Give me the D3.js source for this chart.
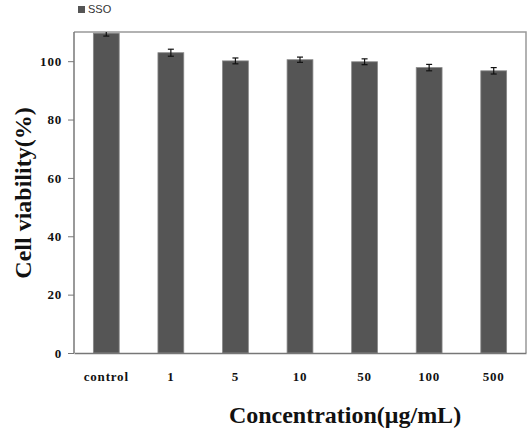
<!DOCTYPE html>
<html>
<head>
<meta charset="utf-8">
<script src="https://cdn.jsdelivr.net/npm/d3@7"></script>
<style>
  body { margin: 0; background: #fff; }
  .tick text { font-family: 'Liberation Serif', 'Times New Roman', serif; font-weight: bold; font-size: 13px; letter-spacing: 0.8px; fill: #111; }
</style>
</head>
<body>
<div id="chart"></div>
<script>
const categories = ['control', '1', '5', '10', '50', '100', '500'];
const viability = [109.6, 102.9, 100.1, 100.5, 99.8, 97.8, 96.7];
const errors = [1.0, 1.2, 1.0, 0.9, 1.0, 1.1, 1.1];
const yTicks = [0, 20, 40, 60, 80, 100];

const config = {
  width: 532,
  height: 428,
  margin: { top: 32, right: 6, bottom: 75, left: 74 },
};

const width = config.width - config.margin.left - config.margin.right;
const height = config.height - config.margin.top - config.margin.bottom;

const svg = d3.select('#chart').append('svg')
  .attr('width', config.width)
  .attr('height', config.height);

const chart = svg.append('g')
  .attr('transform', `translate(${config.margin.left},${config.margin.top})`);

const xScale = d3.scaleBand()
  .domain(categories)
  .range([0, width])
  .paddingInner(0.6)
  .paddingOuter(0.3);

const yScale = d3.scaleLinear()
  .domain([0, 110])
  .range([height, 0]);

// plot frame (top and right)
chart.append('path')
  .attr('d', `M0,0H${width}V${height}`)
  .attr('fill', 'none')
  .attr('stroke', '#999')
  .attr('stroke-width', 1.5);

chart.selectAll('.bar')
  .data(categories)
  .join('rect')
  .attr('class', 'bar')
  .attr('x', (d) => xScale(d))
  .attr('width', xScale.bandwidth())
  .attr('y', (d, i) => yScale(viability[i]))
  .attr('height', (d, i) => height - yScale(viability[i]))
  .attr('fill', '#555')
  .attr('stroke', '#888')
  .attr('stroke-width', 0.8);

// error bars
const err = chart.selectAll('.err')
  .data(categories.map((c, i) => ({ c, v: viability[i], e: errors[i] })))
  .join('g')
  .attr('class', 'err')
  .attr('transform', (d) => `translate(${xScale(d.c) + xScale.bandwidth() / 2},0)`);

err.append('line')
  .attr('y1', (d) => yScale(Math.min(d.v + d.e, 110)))
  .attr('y2', (d) => yScale(d.v - d.e))
  .attr('stroke', '#111')
  .attr('stroke-width', 1.2);

err.append('line')
  .attr('x1', -3).attr('x2', 3)
  .attr('y1', (d) => yScale(d.v - d.e))
  .attr('y2', (d) => yScale(d.v - d.e))
  .attr('stroke', '#111')
  .attr('stroke-width', 1.2);

err.filter((d) => d.v + d.e < 110)
  .append('line')
  .attr('x1', -3).attr('x2', 3)
  .attr('y1', (d) => yScale(d.v + d.e))
  .attr('y2', (d) => yScale(d.v + d.e))
  .attr('stroke', '#111')
  .attr('stroke-width', 1.2);

const yAxisG = chart.append('g')
  .call(d3.axisLeft(yScale).tickValues(yTicks).tickSize(6).tickSizeOuter(0).tickPadding(6));
yAxisG.select('.domain').attr('stroke', '#777').attr('stroke-width', 1.5)
  .attr('d', `M0,${height}V0`);
yAxisG.selectAll('.tick line').attr('stroke', '#777');

const xAxisG = chart.append('g')
  .attr('transform', `translate(0,${height})`)
  .call(d3.axisBottom(xScale).tickSize(0).tickPadding(19));
xAxisG.select('.domain').attr('stroke', '#777').attr('stroke-width', 1.5);

// axis titles
svg.append('text')
  .attr('x', 345)
  .attr('y', 423)
  .attr('text-anchor', 'middle')
  .style('font-family', "'Liberation Serif', 'Times New Roman', serif")
  .style('font-weight', 'bold')
  .style('font-size', '24px')
  .style('fill', '#111')
  .text('Concentration(μg/mL)');

svg.append('text')
  .attr('transform', 'translate(31,193) rotate(-90)')
  .attr('text-anchor', 'middle')
  .style('font-family', "'Liberation Serif', 'Times New Roman', serif")
  .style('font-weight', 'bold')
  .style('font-size', '24px')
  .style('fill', '#111')
  .text('Cell viability(%)');

// legend
svg.append('rect')
  .attr('x', 78).attr('y', 6)
  .attr('width', 7).attr('height', 7)
  .attr('fill', '#555');

svg.append('text')
  .attr('x', 88).attr('y', 13)
  .style('font-family', "'Liberation Sans', Arial, sans-serif")
  .style('font-size', '11px')
  .style('fill', '#333')
  .text('SSO');
</script>
</body>
</html>
